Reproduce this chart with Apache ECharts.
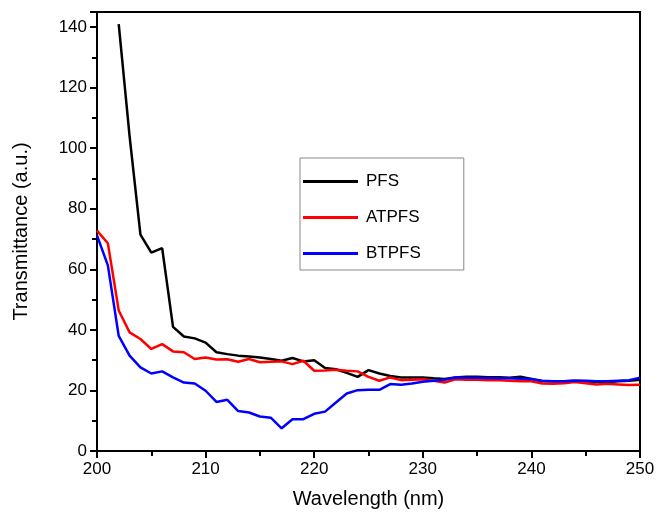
<!DOCTYPE html>
<html>
<head>
<meta charset="UTF-8">
<title>Transmittance</title>
<script src="https://cdn.jsdelivr.net/npm/echarts@6/dist/echarts.min.js"></script>
<style>
  html, body { margin: 0; padding: 0; background: #fff; }
</style>
</head>
<body>
<div id="container" style="width: 658px;height:514px;"></div>
<script type="text/javascript">
// wavelength (nm)
var wlPFS = [202, 203, 204, 205, 206, 207, 208, 209, 210, 211, 212, 213, 214, 215, 216, 217, 218, 219, 220,
	221, 222, 223, 224, 225, 226, 227, 228, 229, 230, 231, 232, 233, 234, 235, 236, 237, 238, 239, 240,
	241, 242, 243, 244, 245, 246, 247, 248, 249, 250];
var wlAll = [200, 201].concat(wlPFS);

var pfs = [141, 104, 71.5, 65.5, 67, 41, 37.8, 37.2, 35.8, 32.6, 32, 31.5, 31.2, 30.9, 30.4, 29.8, 30.7, 29.6, 30,
	27.4, 27, 25.8, 24.5, 26.7, 25.6, 24.8, 24.3, 24.3, 24.3, 24, 23.8, 24.3, 24.5, 24.5, 24.4, 24.4, 24.2, 24.5, 23.8,
	23, 23, 23, 23.2, 23, 22.8, 22.8, 23, 23.2, 23.5];
var atpfs = [72.8, 68.6, 46.4, 39.2, 37, 33.7, 35.3, 32.9, 32.6, 30.4, 30.9, 30.2, 30.3, 29.5, 30.4, 29.3, 29.5, 29.6, 28.7, 29.8, 26.5,
	26.6, 26.8, 26.5, 26.3, 24.5, 23.2, 24.3, 23.4, 23.5, 23.7, 23.2, 22.6, 23.7, 23.5, 23.5, 23.4, 23.4, 23.2, 23, 23,
	22.3, 22.2, 22.4, 22.8, 22.4, 22, 22.2, 22, 21.8, 21.9];
var btpfs = [71.2, 61.3, 38, 31.5, 27.6, 25.6, 26.3, 24.3, 22.6, 22.3, 19.9, 16.2, 16.9, 13.2, 12.7, 11.4, 11, 7.5, 10.5, 10.5, 12.3,
	13, 16, 19, 20.1, 20.2, 20.2, 22.1, 21.9, 22.3, 22.9, 23.2, 23.5, 24.3, 24.2, 24.2, 24.1, 24, 24, 23.9, 23.8,
	23.2, 23, 23, 23.2, 23.2, 23, 23, 23.2, 23.4, 24.2];

function pairs(xs, ys) {
	var out = [];
	for (var i = 0; i < xs.length; i++) out.push([xs[i], ys[i]]);
	return out;
}

var font = 'Liberation Sans, Arial, Helvetica, sans-serif';
var myChart = echarts.init(document.getElementById('container'));

var option = {
	animation: false,
	textStyle: { fontFamily: font },
	grid: {
		left: 97, right: 18, top: 12, bottom: 63,
		show: true, borderColor: '#000', borderWidth: 2
	},
	legend: {
		orient: 'vertical',
		left: 300, top: 158,
		padding: [15, 43, 8, 3],
		borderColor: '#888',
		borderWidth: 1,
		itemWidth: 55,
		itemHeight: 3,
		itemGap: 19,
		icon: 'rect',
		textStyle: { fontSize: 17, color: '#000', fontFamily: font, padding: [0, 0, 0, 3] },
		data: ['PFS', 'ATPFS', 'BTPFS']
	},
	xAxis: {
		type: 'value',
		min: 200, max: 250, interval: 10,
		name: 'Wavelength (nm)',
		nameLocation: 'middle',
		nameGap: 38,
		nameTextStyle: { fontSize: 20, color: '#000' },
		axisLine: { lineStyle: { color: '#000', width: 2 } },
		axisTick: { length: 7, lineStyle: { width: 2, color: '#000' } },
		minorTick: { show: true, splitNumber: 2, length: 5, lineStyle: { width: 2, color: '#000' } },
		axisLabel: { fontSize: 17, color: '#000', margin: 10 },
		splitLine: { show: false }
	},
	yAxis: {
		type: 'value',
		min: 0, max: 145, interval: 20,
		name: 'Transmittance (a.u.)',
		nameLocation: 'middle',
		nameGap: 66,
		nameTextStyle: { fontSize: 20, color: '#000' },
		axisLine: { show: true, lineStyle: { color: '#000', width: 2 } },
		axisTick: { show: true, length: 7, lineStyle: { width: 2, color: '#000' } },
		minorTick: { show: true, splitNumber: 2, length: 5, lineStyle: { width: 2, color: '#000' } },
		axisLabel: {
			fontSize: 17, color: '#000', margin: 10,
			formatter: function (v) { return v % 20 === 0 ? v : ''; }
		},
		splitLine: { show: false }
	},
	series: [
		{ name: 'PFS', type: 'line', data: pairs(wlPFS, pfs), showSymbol: false, color: '#000000',
			lineStyle: { width: 2.5, color: '#000000' } },
		{ name: 'ATPFS', type: 'line', data: pairs(wlAll, atpfs), showSymbol: false, color: '#ff0000',
			lineStyle: { width: 2.5, color: '#ff0000' } },
		{ name: 'BTPFS', type: 'line', data: pairs(wlAll, btpfs), showSymbol: false, color: '#0000ff',
			lineStyle: { width: 2.5, color: '#0000ff' } }
	]
};
myChart.setOption(option);
</script>
</body>
</html>
